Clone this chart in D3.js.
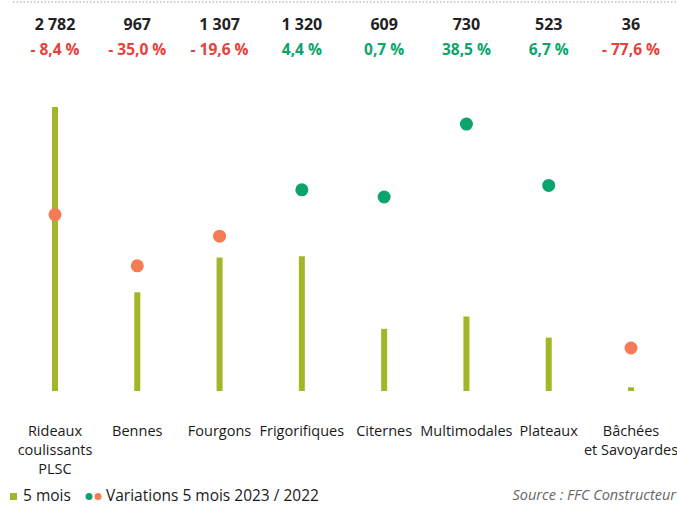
<!DOCTYPE html>
<html>
<head>
<meta charset="utf-8">
<script src="https://cdn.jsdelivr.net/npm/d3@7"></script>
<style>
  body { margin: 0; background: #fff; }
  svg { display: block; font-family: "Open Sans", sans-serif; }
</style>
</head>
<body>
<div id="chart"></div>
<script>
// données
const categories = ["Rideaux|coulissants|PLSC", "Bennes", "Fourgons", "Frigorifiques", "Citernes",
    "Multimodales", "Plateaux", "Bâchées|et Savoyardes"];
const volumes = [2782, 967, 1307, 1320, 609, 730, 523, 36];
const variations = [-8.4, -35.0, -19.6, 4.4, 0.7, 38.5, 6.7, -77.6];

const width = 677, height = 506;
const olive = "#a3b628", orange = "#f47b55", green = "#0ba46c", red = "#e8403a";

const fmtNum = d => d3.format(",")(d).replace(/,/g, " ");
const fmtPct = d => (d < 0 ? "- " : "") + d3.format(".1f")(Math.abs(d)).replace(".", ",") + " %";

let svg = d3.select("#chart").append("svg")
    .attr("width", width)
    .attr("height", height);

let x = d3.scalePoint()
    .domain(categories)
    .range([55, 631]);

// échelle des barres
let yBar = d3.scaleLinear()
    .domain([0, d3.max(volumes)])
    .range([391, 107]);

// échelle des variations
let yVar = d3.scaleLinear()
    .domain([-80, 40])
    .range([352.6, 121.2]);

// ligne pointillée en haut
svg.append("line")
    .attr("x1", 13).attr("x2", width)
    .attr("y1", 2).attr("y2", 2)
    .style("stroke", "#999")
    .style("stroke-width", 1)
    .style("stroke-dasharray", "1.5,2");

// valeurs en haut
svg.selectAll(".val")
    .data(volumes)
    .enter().append("text")
    .attr("class", "val")
    .attr("x", (d, i) => x(categories[i]))
    .attr("y", 30)
    .attr("text-anchor", "middle")
    .style("font-size", "16px")
    .style("font-weight", "bold")
    .style("fill", "#222")
    .text(fmtNum);

svg.selectAll(".pct")
    .data(variations)
    .enter().append("text")
    .attr("class", "pct")
    .attr("x", (d, i) => x(categories[i]))
    .attr("y", 55)
    .attr("text-anchor", "middle")
    .style("font-size", "15.5px")
    .style("font-weight", "bold")
    .style("fill", d => d < 0 ? red : green)
    .text(fmtPct);

// barres
svg.selectAll(".bar")
    .data(volumes)
    .enter().append("rect")
    .attr("class", "bar")
    .attr("x", (d, i) => x(categories[i]) - 3)
    .attr("width", 6)
    .attr("y", d => yBar(d))
    .attr("height", d => yBar(0) - yBar(d))
    .style("fill", olive);

// points
svg.selectAll(".dot")
    .data(variations)
    .enter().append("circle")
    .attr("class", "dot")
    .attr("r", 6.5)
    .attr("cx", (d, i) => x(categories[i]))
    .attr("cy", d => yVar(d))
    .style("fill", d => d < 0 ? orange : green);

// libellés
let lab = svg.selectAll(".lab")
    .data(categories)
    .enter().append("text")
    .attr("class", "lab")
    .attr("text-anchor", "middle")
    .style("font-size", "14.5px")
    .style("font-weight", "500")
    .style("fill", "#1a1a1a");
lab.selectAll("tspan")
    .data(d => d.split("|").map(t => ({t: t, c: d})))
    .enter().append("tspan")
    .attr("x", d => x(d.c))
    .attr("y", (d, i) => 436 + i * 19)
    .text(d => d.t);

// légende
svg.append("rect")
    .attr("x", 10).attr("y", 493)
    .attr("width", 7).attr("height", 7)
    .style("fill", olive);
svg.append("text")
    .attr("x", 23).attr("y", 501)
    .style("font-size", "15.5px")
    .style("font-weight", "500")
    .style("fill", "#1a1a1a")
    .text("5 mois");
svg.append("circle").attr("cx", 89).attr("cy", 496.5).attr("r", 3.5).style("fill", green);
svg.append("circle").attr("cx", 98).attr("cy", 496.5).attr("r", 3.5).style("fill", orange);
svg.append("text")
    .attr("x", 106).attr("y", 501)
    .style("font-size", "15.5px")
    .style("font-weight", "500")
    .style("fill", "#1a1a1a")
    .text("Variations 5 mois 2023 / 2022");

svg.append("text")
    .attr("x", 676).attr("y", 500)
    .attr("text-anchor", "end")
    .style("font-size", "14.5px")
    .style("font-style", "italic")
    .style("fill", "#666")
    .text("Source : FFC Constructeur");
</script>
</body>
</html>
